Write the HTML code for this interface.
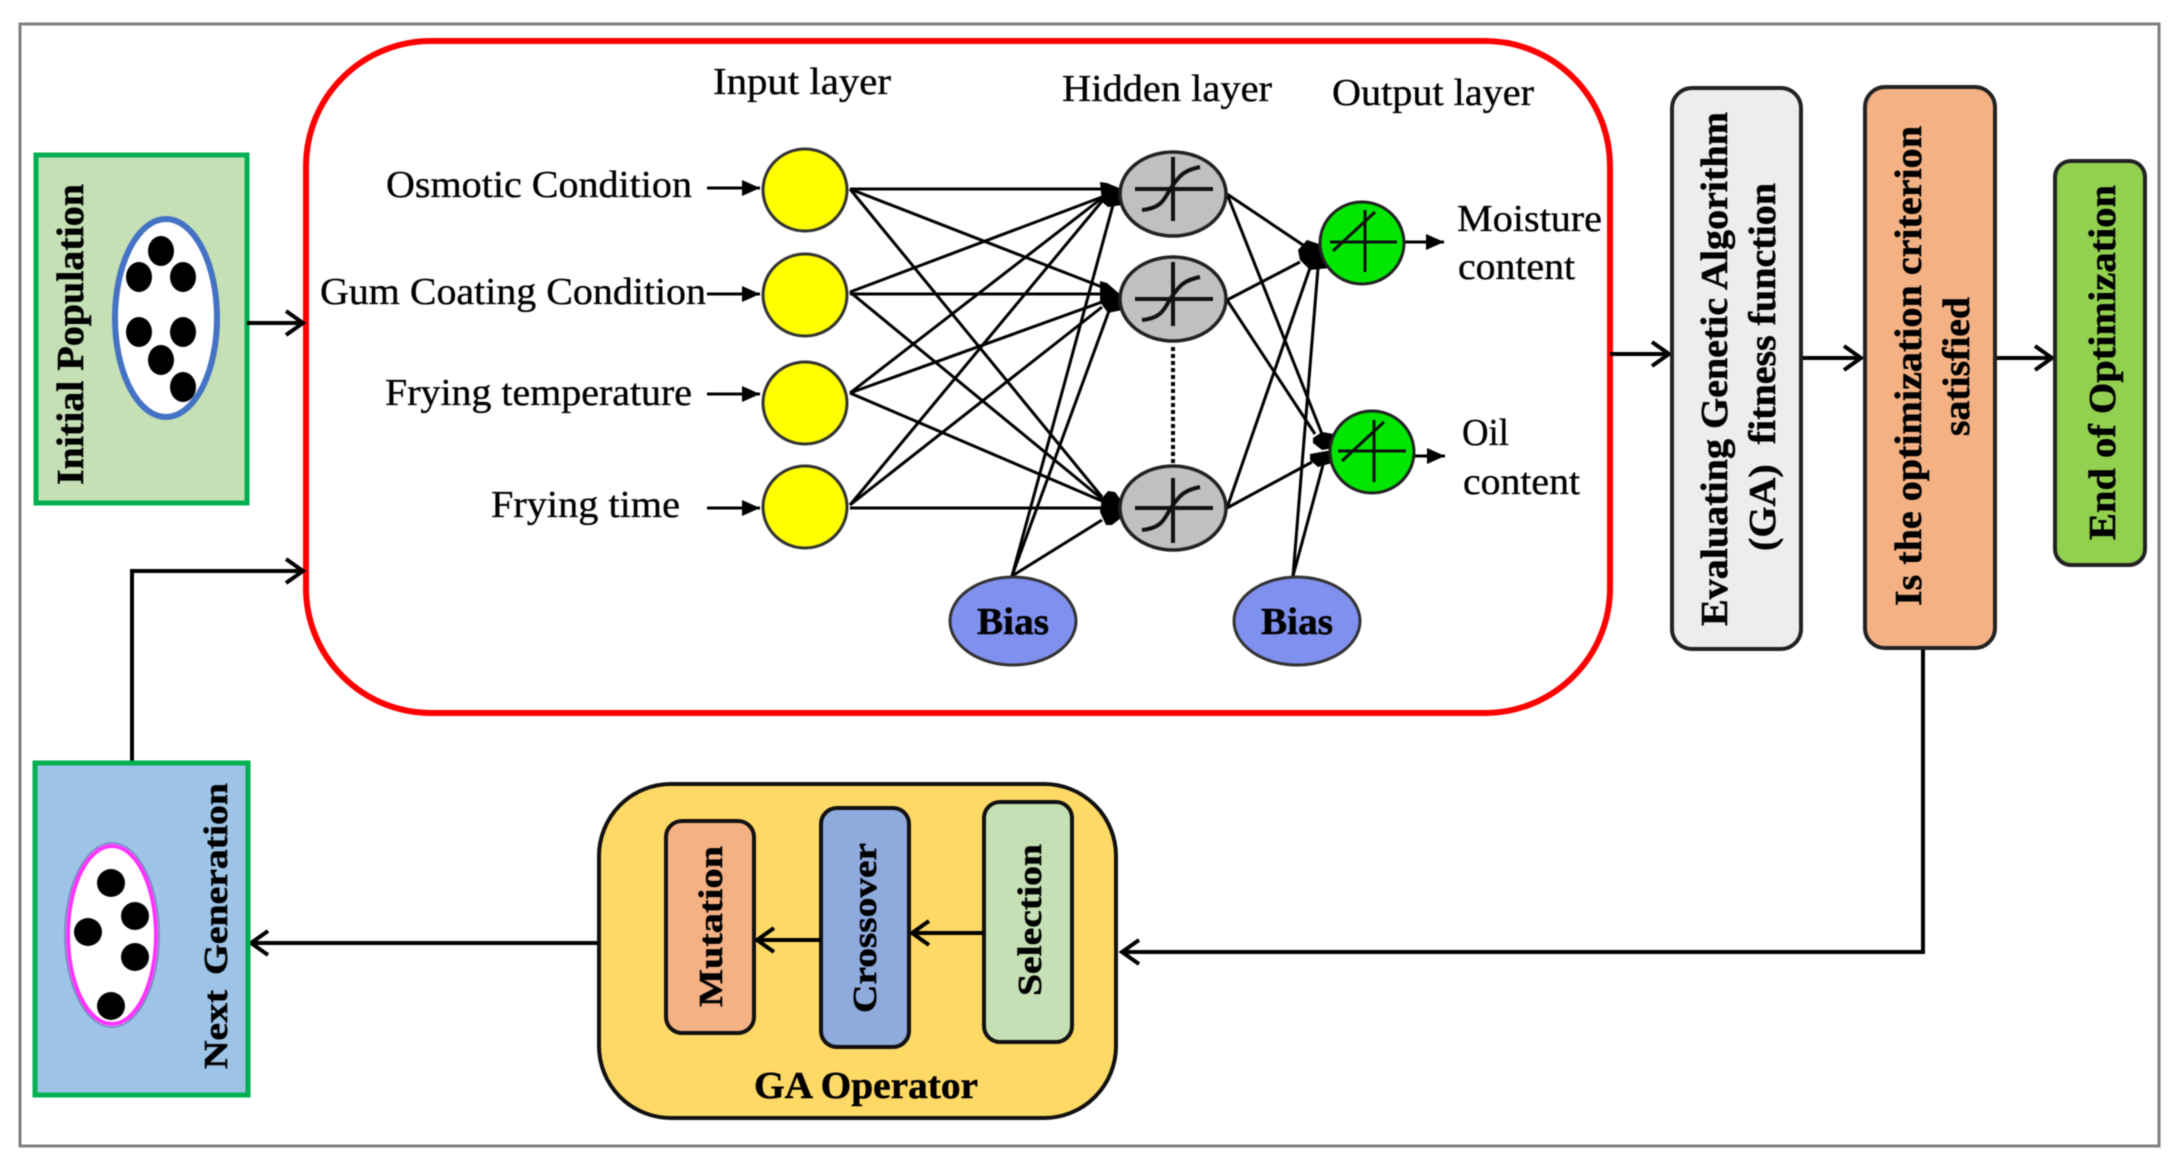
<!DOCTYPE html>
<html><head><meta charset="utf-8"><title>ANN-GA optimization diagram</title>
<style>
html,body{margin:0;padding:0;background:#fff}
svg{display:block;filter:blur(.6px)}
text{font-family:"Liberation Serif",serif;fill:#000;stroke:#000;stroke-width:.35px}
.b{font-weight:bold;stroke-width:.5px}
</style></head><body>
<svg width="2178" height="1172" viewBox="0 0 2178 1172" xmlns="http://www.w3.org/2000/svg">
<defs>
<marker id="s" markerUnits="userSpaceOnUse" markerWidth="22" markerHeight="22" refX="18" refY="11" orient="auto"><path d="M0 3L18 11L0 19Z" fill="#000"/></marker>
<marker id="c" markerUnits="userSpaceOnUse" markerWidth="26" markerHeight="32" refX="23" refY="16" orient="auto"><path d="M5 4L22 16L5 28" fill="none" stroke="#000" stroke-width="4"/></marker>
</defs>
<rect width="2178" height="1172" fill="#fff"/>
<rect x="20" y="24" width="2139" height="1122" fill="#fff" stroke="#7f7f7f" stroke-width="3"/>

<!-- Initial population -->
<rect x="36" y="155" width="211" height="348" fill="#c5e0b4" stroke="#00b050" stroke-width="5"/>
<ellipse cx="166" cy="318" rx="51" ry="99" fill="#fff" stroke="#4472c4" stroke-width="6"/>
<g fill="#000">
<ellipse cx="161" cy="251" rx="13" ry="15"/><ellipse cx="139" cy="277" rx="13" ry="15"/><ellipse cx="183" cy="277" rx="13" ry="15"/>
<ellipse cx="139" cy="332" rx="13" ry="15"/><ellipse cx="183" cy="332" rx="13" ry="15"/><ellipse cx="161" cy="360" rx="13" ry="15"/><ellipse cx="183" cy="387" rx="13" ry="15"/>
</g>
<text class="b" font-size="38" transform="translate(83,485) rotate(-90)" textLength="301" lengthAdjust="spacingAndGlyphs">Initial Population</text>

<!-- Red ANN box -->
<rect x="306" y="41" width="1304" height="672" rx="125" ry="125" fill="#fff" stroke="#f00" stroke-width="6"/>

<g stroke="#000" stroke-width="4" fill="none">
<path d="M247 323H304" marker-end="url(#c)"/>
<path d="M132 761V571H304" marker-end="url(#c)"/>
<path d="M1610 354H1670" marker-end="url(#c)"/>
<path d="M1801 358H1862" marker-end="url(#c)"/>
<path d="M1995 358H2053" marker-end="url(#c)"/>
<path d="M1923 648V952H1121" marker-end="url(#c)"/>
<path d="M600 943H250" marker-end="url(#c)"/>
</g>

<!-- Network connections -->
<g stroke="#000" stroke-width="3" fill="none">
<path d="M850 189H1102"/>
<path d="M850 189L1102 287"/>
<path d="M850 189L1102 497"/>
<path d="M850 292L1102 197"/>
<path d="M850 294H1102"/>
<path d="M850 292L1102 499"/>
<path d="M850 393L1102 198"/>
<path d="M850 393L1102 302"/>
<path d="M850 393L1102 501"/>
<path d="M850 505L1103 200"/>
<path d="M850 505L1102 307"/>
<path d="M850 508H1102"/>
<path d="M1012 576L1113 205"/>
<path d="M1012 576L1109 311"/>
<path d="M1012 576L1102 520"/>
<path d="M1227 194L1303 245"/>
<path d="M1227 194L1322 434"/>
<path d="M1227 300L1300 262"/>
<path d="M1227 300L1315 434"/>
<path d="M1227 508L1310 268"/>
<path d="M1227 508L1312 462"/>
<path d="M1293 576L1318 268"/>
<path d="M1293 576L1323 465"/>
<path d="M707 188H760" marker-end="url(#s)"/>
<path d="M707 294H760" marker-end="url(#s)"/>
<path d="M707 394H760" marker-end="url(#s)"/>
<path d="M707 508H760" marker-end="url(#s)"/>
<path d="M1404 242H1444" marker-end="url(#s)"/>
<path d="M1413 456H1445" marker-end="url(#s)"/>
</g>
<g fill="#000">
<path d="M1100 182L1107 183L1124 190L1122 205L1108 207L1102 202Z"/>
<path d="M1100 281L1107 283L1122 296L1122 310L1108 313L1100 302Z"/>
<path d="M1102 498L1108 491L1115 492L1121 500L1121 518L1112 525L1106 525L1100 512Z"/>
<path d="M1298 250L1307 240L1322 245L1330 268L1310 270L1300 260Z"/>
<path d="M1313 438L1322 432L1334 434L1334 448L1322 450L1313 443Z"/>
<path d="M1310 454L1332 450L1332 463L1318 467L1310 460Z"/>
</g>
<path d="M1173 347V465" stroke="#000" stroke-width="4" stroke-dasharray="4 3"/>

<!-- Input nodes -->
<g fill="#ffff00" stroke="#333" stroke-width="3">
<ellipse cx="805" cy="190" rx="42" ry="41"/><ellipse cx="805" cy="295" rx="42" ry="41"/><ellipse cx="805" cy="403" rx="42" ry="41"/><ellipse cx="805" cy="507" rx="42" ry="41"/>
</g>
<!-- Hidden nodes -->
<g fill="#c0c0c0" stroke="#222" stroke-width="3.5">
<ellipse cx="1173" cy="194" rx="53" ry="42"/><ellipse cx="1173" cy="299" rx="53" ry="42"/><ellipse cx="1173" cy="508" rx="53" ry="42"/>
</g>
<g stroke="#111" stroke-width="4" fill="none">
<path d="M1173 157V221M1135 189H1213M1142 210C1165 208 1165 195 1173 185C1180 175 1185 170 1200 167"/>
<path d="M1173 262V326M1135 299H1213M1142 320C1165 318 1165 305 1173 295C1180 285 1185 280 1200 277"/>
<path d="M1173 478V543M1135 508H1213M1142 530C1165 528 1165 515 1173 505C1180 495 1185 490 1200 487"/>
</g>
<!-- Output nodes -->
<g fill="#00e600" stroke="#222" stroke-width="3">
<ellipse cx="1362" cy="243" rx="42" ry="41"/><ellipse cx="1372" cy="452" rx="42" ry="41"/>
</g>
<g stroke="#111" stroke-width="3" fill="none">
<path d="M1365 210V272M1330 242H1397M1333 251L1375 212"/>
<path d="M1374 420V482M1338 451H1406M1342 461L1384 422"/>
</g>
<!-- Bias -->
<g fill="#8090ee" stroke="#333" stroke-width="3">
<ellipse cx="1013" cy="621" rx="63" ry="44"/><ellipse cx="1297" cy="621" rx="63" ry="44"/>
</g>
<text class="b" font-size="38" x="977" y="634" textLength="72" lengthAdjust="spacingAndGlyphs">Bias</text>
<text class="b" font-size="38" x="1261" y="634" textLength="72" lengthAdjust="spacingAndGlyphs">Bias</text>

<!-- Labels -->
<g font-size="38">
<text x="386" y="197" textLength="306" lengthAdjust="spacingAndGlyphs">Osmotic Condition</text>
<text x="320" y="304" textLength="386" lengthAdjust="spacingAndGlyphs">Gum Coating Condition</text>
<text x="385" y="405" textLength="307" lengthAdjust="spacingAndGlyphs">Frying temperature</text>
<text x="491" y="517" textLength="189" lengthAdjust="spacingAndGlyphs">Frying time</text>
<text x="713" y="94" textLength="178" lengthAdjust="spacingAndGlyphs">Input layer</text>
<text x="1062" y="101" textLength="210" lengthAdjust="spacingAndGlyphs">Hidden layer</text>
<text x="1332" y="105" textLength="202" lengthAdjust="spacingAndGlyphs">Output layer</text>
<text x="1457" y="231" textLength="145" lengthAdjust="spacingAndGlyphs">Moisture</text>
<text x="1458" y="279" textLength="117" lengthAdjust="spacingAndGlyphs">content</text>
<text x="1462" y="445" textLength="47" lengthAdjust="spacingAndGlyphs">Oil</text>
<text x="1463" y="494" textLength="117" lengthAdjust="spacingAndGlyphs">content</text>
</g>

<!-- Right boxes -->
<rect x="1672" y="88" width="129" height="561" rx="20" fill="#ededed" stroke="#222" stroke-width="4"/>
<text class="b" font-size="38" transform="translate(1727,626) rotate(-90)" textLength="514" lengthAdjust="spacingAndGlyphs">Evaluating Genetic Algorithm</text>
<text class="b" font-size="38" transform="translate(1775,551) rotate(-90)" textLength="368" lengthAdjust="spacingAndGlyphs" xml:space="preserve">(GA)  fitness function</text>
<rect x="1865" y="87" width="130" height="561" rx="20" fill="#f4b183" stroke="#222" stroke-width="4"/>
<text class="b" font-size="38" transform="translate(1921,606) rotate(-90)" textLength="480" lengthAdjust="spacingAndGlyphs">Is the optimization criterion</text>
<text class="b" font-size="38" transform="translate(1969,436) rotate(-90)" textLength="139" lengthAdjust="spacingAndGlyphs">satisfied</text>
<rect x="2055" y="161" width="90" height="404" rx="16" fill="#92d050" stroke="#222" stroke-width="4"/>
<text class="b" font-size="38" transform="translate(2115,540) rotate(-90)" textLength="355" lengthAdjust="spacingAndGlyphs">End of Optimization</text>

<!-- Next generation -->
<rect x="35" y="763" width="213" height="332" fill="#9dc3e6" stroke="#00b050" stroke-width="5"/>
<ellipse cx="112" cy="935" rx="47" ry="92" fill="#fff" stroke="#6f7fc0" stroke-width="1.5"/>
<ellipse cx="112" cy="935" rx="44" ry="89" fill="#fff" stroke="#ff33ff" stroke-width="4"/>
<g fill="#000">
<ellipse cx="111" cy="883" rx="14" ry="14"/><ellipse cx="135" cy="916" rx="14" ry="14"/><ellipse cx="88" cy="932" rx="14" ry="14"/><ellipse cx="135" cy="957" rx="14" ry="14"/><ellipse cx="111" cy="1006" rx="14" ry="14"/>
</g>
<text class="b" font-size="34" transform="translate(227,1069) rotate(-90)" textLength="79" lengthAdjust="spacingAndGlyphs">Next</text>
<text class="b" font-size="34" transform="translate(227,975) rotate(-90)" textLength="192" lengthAdjust="spacingAndGlyphs">Generation</text>

<!-- GA Operator -->
<rect x="599" y="784" width="517" height="334" rx="72" fill="#ffd966" stroke="#111" stroke-width="4"/>
<rect x="666" y="821" width="88" height="212" rx="16" fill="#f4b183" stroke="#111" stroke-width="4"/>
<rect x="821" y="808" width="88" height="239" rx="16" fill="#8faadc" stroke="#111" stroke-width="4"/>
<rect x="984" y="802" width="88" height="240" rx="16" fill="#c5e0b4" stroke="#111" stroke-width="4"/>
<text class="b" font-size="34" transform="translate(722,1007) rotate(-90)" textLength="161" lengthAdjust="spacingAndGlyphs">Mutation</text>
<text class="b" font-size="34" transform="translate(876,1013) rotate(-90)" textLength="170" lengthAdjust="spacingAndGlyphs">Crossover</text>
<text class="b" font-size="34" transform="translate(1041,996) rotate(-90)" textLength="152" lengthAdjust="spacingAndGlyphs">Selection</text>
<text class="b" font-size="38" x="754" y="1098" textLength="224" lengthAdjust="spacingAndGlyphs">GA Operator</text>
<g stroke="#000" stroke-width="4" fill="none">
<path d="M984 933H911" marker-end="url(#c)"/>
<path d="M821 940H756" marker-end="url(#c)"/>
</g>
</svg>
</body></html>
